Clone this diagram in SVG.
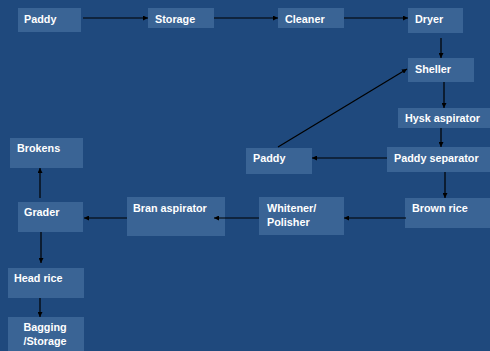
<svg xmlns="http://www.w3.org/2000/svg" width="490" height="351" viewBox="0 0 490 351">
<defs>
<style>
.b{fill:#3A6495}
.t{fill:#FFFFFF;font-family:"Liberation Sans",Arial,sans-serif;font-weight:bold;font-size:10.8px}
.c{stroke:#000000;stroke-width:1.2;fill:none;marker-end:url(#ah)}
</style>
<marker id="ah" viewBox="0 0 10 10" refX="10" refY="5" markerWidth="5" markerHeight="5" markerUnits="userSpaceOnUse" orient="auto">
<path d="M0,0 L10,5 L0,10 z" fill="#000000"/>
</marker>
</defs>
<rect x="0" y="0" width="490" height="351" fill="#1F497D"/>
<g id="paddy1"><rect class="b" x="18" y="8" width="63" height="24"/><text class="t" x="24" y="23">Paddy</text></g>
<g id="storage"><rect class="b" x="148" y="8" width="66" height="20"/><text class="t" x="155" y="23">Storage</text></g>
<g id="cleaner"><rect class="b" x="278" y="8" width="66" height="20"/><text class="t" x="285" y="23">Cleaner</text></g>
<g id="dryer"><rect class="b" x="408" y="8" width="55" height="25"/><text class="t" x="415" y="23">Dryer</text></g>
<g id="sheller"><rect class="b" x="408" y="58" width="66" height="24"/><text class="t" x="415" y="73">Sheller</text></g>
<g id="hysk"><rect class="b" x="398" y="108" width="92" height="20"/><text class="t" x="405" y="122">Hysk aspirator</text></g>
<g id="paddysep"><rect class="b" x="387" y="147" width="103" height="25"/><text class="t" x="394" y="162">Paddy separator</text></g>
<g id="paddy2"><rect class="b" x="246" y="148" width="66" height="26"/><text class="t" x="253" y="162">Paddy</text></g>
<g id="brownrice"><rect class="b" x="405" y="198" width="85" height="30"/><text class="t" x="412" y="212">Brown rice</text></g>
<g id="whitener"><rect class="b" x="259" y="197" width="85" height="38"/><text class="t" x="267" y="212">Whitener/</text><text class="t" x="267" y="226">Polisher</text></g>
<g id="bran"><rect class="b" x="127" y="197" width="98" height="39"/><text class="t" x="133" y="212">Bran aspirator</text></g>
<g id="grader"><rect class="b" x="18" y="202" width="65" height="30"/><text class="t" x="24" y="216">Grader</text></g>
<g id="brokens"><rect class="b" x="10" y="138" width="73" height="30"/><text class="t" x="17" y="152">Brokens</text></g>
<g id="headrice"><rect class="b" x="8" y="268" width="76" height="30"/><text class="t" x="14" y="282">Head rice</text></g>
<g id="bagging"><rect class="b" x="8" y="317" width="76" height="34"/><text class="t" x="45" y="331" text-anchor="middle">Bagging</text><text class="t" x="45" y="345" text-anchor="middle">/Storage</text></g>
<g id="connectors">
<line class="c" x1="83" y1="18" x2="148" y2="18"/>
<line class="c" x1="214" y1="18" x2="278" y2="18"/>
<line class="c" x1="344" y1="18" x2="408" y2="18"/>
<line class="c" x1="441" y1="38" x2="441" y2="58"/>
<line class="c" x1="278" y1="147" x2="407" y2="69"/>
<line class="c" x1="444" y1="82" x2="444" y2="108"/>
<line class="c" x1="441" y1="128" x2="441" y2="147"/>
<line class="c" x1="387" y1="158" x2="312" y2="158"/>
<line class="c" x1="445" y1="172" x2="445" y2="198"/>
<line class="c" x1="406" y1="218" x2="344" y2="218"/>
<line class="c" x1="259" y1="218" x2="214" y2="218"/>
<line class="c" x1="127" y1="218" x2="84" y2="218"/>
<line class="c" x1="40" y1="198" x2="40" y2="168"/>
<line class="c" x1="41" y1="232" x2="41" y2="263"/>
<line class="c" x1="40" y1="298" x2="40" y2="317"/>
</g>
</svg>
